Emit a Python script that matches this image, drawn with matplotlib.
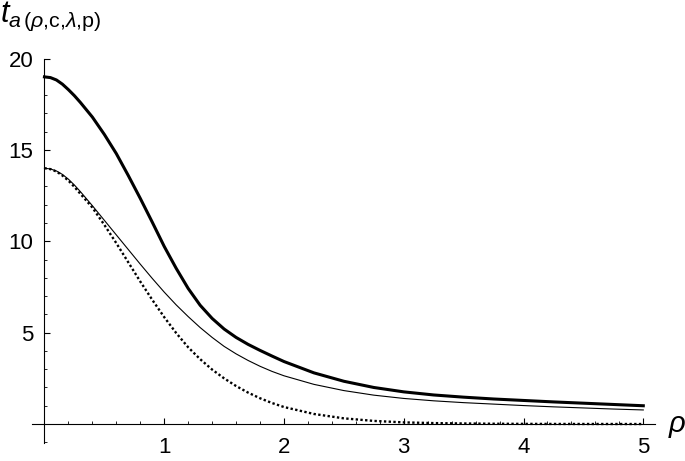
import matplotlib
matplotlib.use('Agg')
import matplotlib.pyplot as plt
from matplotlib.ticker import MultipleLocator, FixedLocator

plt.rcParams['font.family'] = ['Liberation Sans', 'DejaVu Sans']
plt.rcParams['mathtext.fontset'] = 'custom'
plt.rcParams['mathtext.rm'] = 'Liberation Sans'
plt.rcParams['mathtext.it'] = 'Liberation Sans:italic'

# values
rho = [0, 0.05, 0.1, 0.15, 0.2, 0.25, 0.3, 0.4, 0.5, 0.6, 0.7, 0.8, 0.9, 1.0,
       1.1, 1.2, 1.3, 1.4, 1.5, 1.6, 1.7, 1.8, 1.9, 2.0, 2.25, 2.5, 2.75, 3.0,
       3.25, 3.5, 3.75, 4.0, 4.25, 4.5, 4.75, 5.0]
t_thick = [19.0, 18.96, 18.83, 18.6, 18.3, 17.97, 17.6, 16.8, 15.85, 14.8, 13.6,
           12.35, 11.05, 9.72, 8.52, 7.42, 6.5, 5.78, 5.2, 4.74, 4.36, 4.03, 3.72,
           3.42, 2.8, 2.34, 2.0, 1.76, 1.59, 1.47, 1.37, 1.29, 1.21, 1.14, 1.07, 1.0]
t_thin = [14.0, 13.96, 13.85, 13.66, 13.4, 13.08, 12.72, 11.95, 11.15, 10.35, 9.55,
          8.75, 7.97, 7.22, 6.52, 5.88, 5.28, 4.74, 4.25, 3.84, 3.48, 3.16, 2.88,
          2.64, 2.17, 1.83, 1.58, 1.4, 1.27, 1.17, 1.09, 1.01, 0.94, 0.88, 0.82, 0.77]
t_dotted = [14.0, 13.95, 13.82, 13.6, 13.32, 12.98, 12.6, 11.85, 10.9, 9.9, 8.85,
            7.8, 6.8, 5.85, 4.98, 4.2, 3.55, 2.98, 2.5, 2.08, 1.72, 1.41, 1.15,
            0.93, 0.55, 0.31, 0.17, 0.09, 0.05, 0.03, 0.015, 0.008, 0.004, 0.002,
            0.001, 0.0]

x_ticks = [1, 2, 3, 4, 5]
y_ticks = [5, 10, 15, 20]

fig = plt.figure(figsize=(6.85, 4.61), dpi=100)
ax = fig.add_axes([0.0474, 0.0386, 0.9092, 0.8343])

ax.plot(rho, t_thick, color='black', lw=2.2, solid_joinstyle='round')
ax.plot(rho, t_thin, color='black', lw=0.8)
ax.plot(rho, t_dotted, color='black', lw=1.7, dashes=(1.0, 1.0))

ax.set_xlim(-0.1, 5.1)
ax.set_ylim(-1.05, 20.0)

for s in ['top', 'right']:
    ax.spines[s].set_visible(False)
ax.spines['left'].set_position(('data', 0))
ax.spines['bottom'].set_position(('data', 0))
ax.spines['left'].set_linewidth(0.8)
ax.spines['bottom'].set_linewidth(0.8)

ax.xaxis.set_major_locator(FixedLocator(x_ticks))
ax.yaxis.set_major_locator(FixedLocator(y_ticks))
ax.xaxis.set_minor_locator(MultipleLocator(0.2))
ax.yaxis.set_minor_locator(MultipleLocator(1))
ax.tick_params(which='major', direction='in', length=4.5, width=0.8, labelsize=16)
ax.tick_params(which='minor', direction='in', length=2.5, width=0.6)
ax.tick_params(axis='x', pad=9)
ax.tick_params(axis='y', pad=8)

fig.text(668 / 685, (461 - 432) / 461, r'$\rho$', fontsize=21, ha='left', va='baseline')
fig.text(0.0, (461 - 22) / 461,
         r'$t_{a\,(\rho{,}\mathrm{c}{,}\lambda{,}\mathrm{p})}$',
         fontsize=22, ha='left', va='baseline')

fig.savefig('out.png', dpi=100)
